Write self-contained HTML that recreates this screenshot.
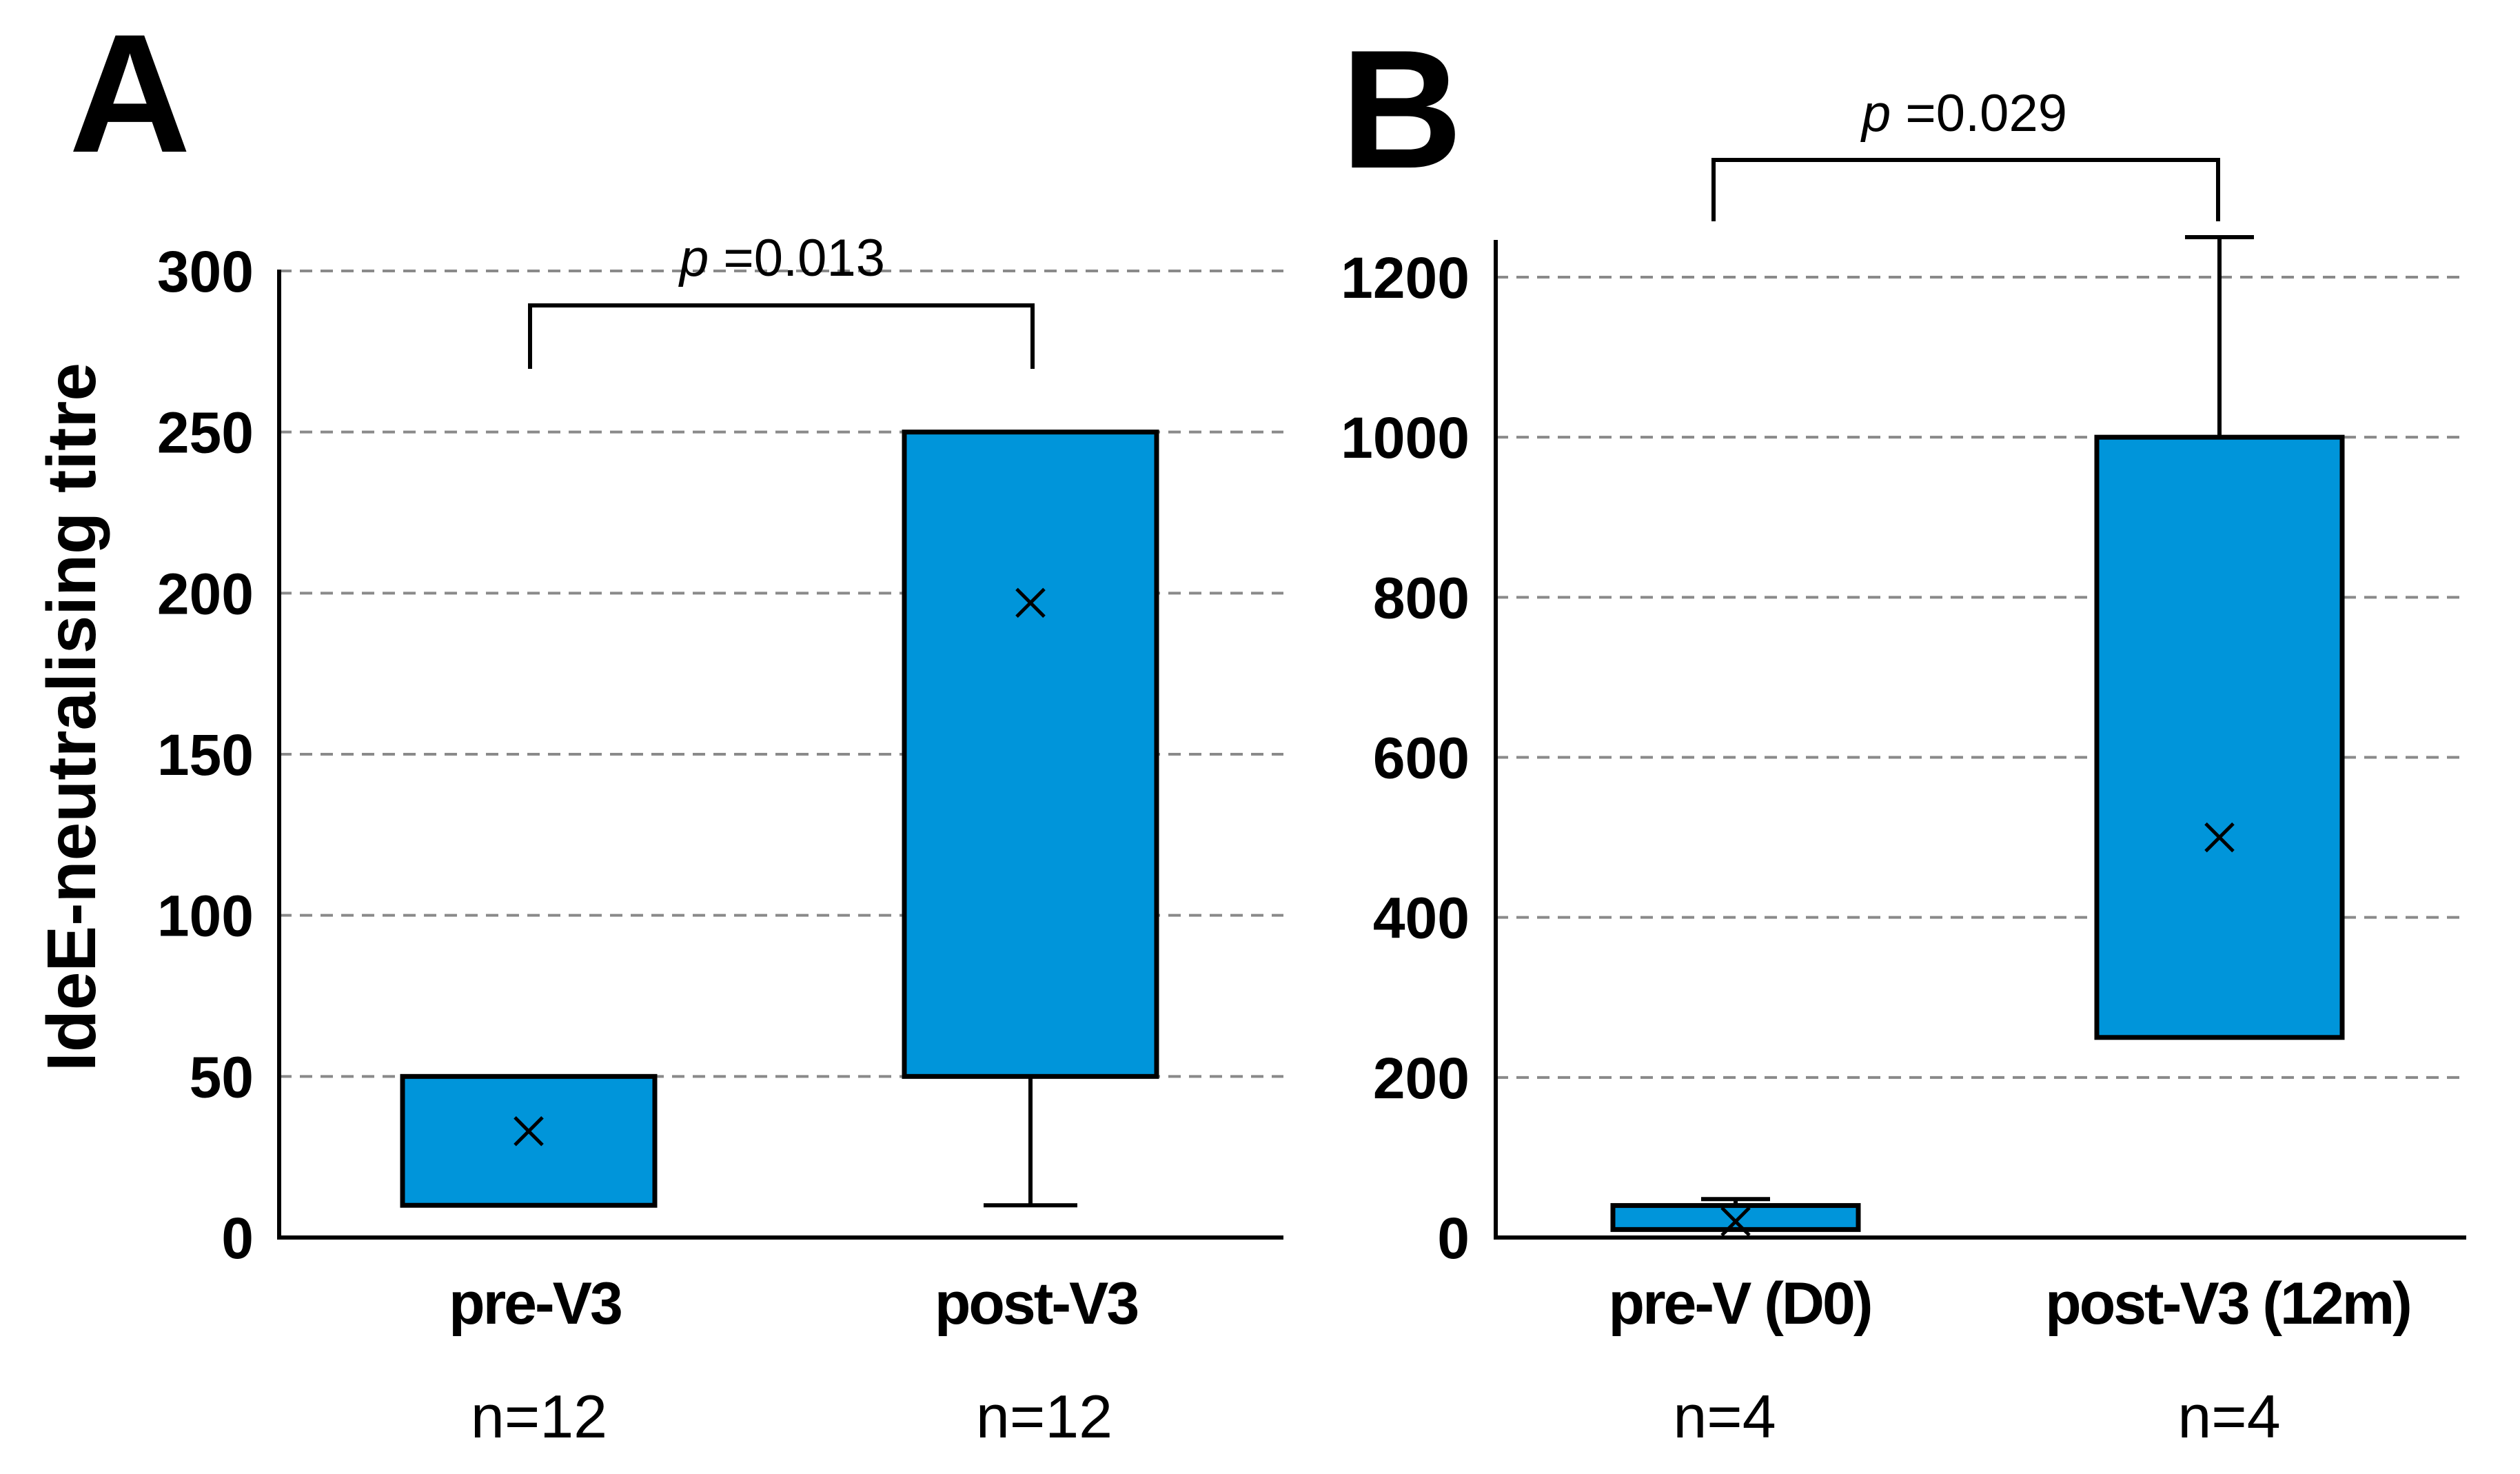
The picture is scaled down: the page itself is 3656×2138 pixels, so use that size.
<!DOCTYPE html>
<html><head><meta charset="utf-8"><style>
html,body{margin:0;padding:0;background:#fff;}
svg{display:block;font-family:"Liberation Sans",Arial,sans-serif;}
</style></head><body>
<svg id="fig" width="3656" height="2138" viewBox="0 0 3656 2138" xmlns="http://www.w3.org/2000/svg">
<text x="100" y="220" font-size="245" font-weight="bold">A</text>
<text x="1945" y="243" font-size="245" font-weight="bold">B</text>
<text transform="translate(138,1040) rotate(-90)" text-anchor="middle" font-size="100" font-weight="bold">IdeE-neutralising titre</text>
</svg>
<script>
const ticksA = [0,50,100,150,200,250,300];
const catsA = ["pre-V3","post-V3"];
const nA = ["n=12","n=12"];
const q1A = [10,50];
const q3A = [50,250];
const whiskLoA = [10,10];
const whiskHiA = [50,250];
const meanA = [33,197];

const ticksB = [0,200,400,600,800,1000,1200];
const catsB = ["pre-V (D0)","post-V3 (12m)"];
const nB = ["n=4","n=4"];
const q1B = [10,250];
const q3B = [40,1000];
const whiskLoB = [10,250];
const whiskHiB = [48,1250];
const meanB = [20,500];

const NS="http://www.w3.org/2000/svg";
const svg=document.getElementById('fig');
function mk(tag,attrs,parent){const e=document.createElementNS(NS,tag);for(const k in attrs)e.setAttribute(k,attrs[k]);(parent||svg).appendChild(e);return e;}

function panel(cfg){
  const g=mk('g',{});
  
  
  const y=v=>cfg.y0-(v-cfg.vmin)/(cfg.vmax-cfg.vmin)*(cfg.y0-cfg.y1);
  const x=i=>cfg.centers[i];
  cfg.ticks.forEach(t=>{
    if(t>0){const l=mk('line',{x1:cfg.ax,x2:cfg.right,y1:y(t),y2:y(t),stroke:'#8a8a8a','stroke-width':4,'stroke-dasharray':'18 12'},g);
    
    }
    const tx=mk('text',{x:cfg.tickRight,y:y(t)+30,'text-anchor':'end','font-size':84,'font-weight':'bold'},g);
    tx.textContent=t;
    
    
  });
  const ya=mk('line',{x1:cfg.ax,x2:cfg.ax,y1:cfg.axTop,y2:cfg.y0+3,stroke:'#000','stroke-width':6},g);
  
  
  const xa=mk('line',{x1:cfg.ax-3,x2:cfg.right,y1:cfg.y0,y2:cfg.y0,stroke:'#000','stroke-width':6},g);
  
  
  cfg.cats.forEach((c,i)=>{
    const cx=x(i);
    const w1=mk('line',{x1:cx,x2:cx,y1:y(cfg.hi[i]),y2:y(cfg.q3[i]),stroke:'#000','stroke-width':6},g);
    
    
    const w2=mk('line',{x1:cx,x2:cx,y1:y(cfg.q1[i]),y2:y(cfg.lo[i]),stroke:'#000','stroke-width':6},g);
    
    
    if(cfg.hi[i]>cfg.q3[i]){const c1=mk('line',{x1:cx-cfg.cap,x2:cx+cfg.cap,y1:y(cfg.hi[i]),y2:y(cfg.hi[i]),stroke:'#000','stroke-width':6},g);
      
      }
    if(cfg.lo[i]<cfg.q1[i]){const c2=mk('line',{x1:cx-cfg.cap,x2:cx+cfg.cap,y1:y(cfg.lo[i]),y2:y(cfg.lo[i]),stroke:'#000','stroke-width':6},g);
      
      }
    const b=mk('rect',{x:cx-cfg.bw/2,y:y(cfg.q3[i]),width:cfg.bw,height:y(cfg.q1[i])-y(cfg.q3[i]),fill:'#0095DA',stroke:'#000','stroke-width':7},g);
    
    
    const my=y(cfg.mean[i]);
    const m=mk('path',{d:`M${cx-20},${my-20}L${cx+20},${my+20}M${cx+20},${my-20}L${cx-20},${my+20}`,stroke:'#000','stroke-width':5,fill:'none'},g);
    
    
    const cl=mk('text',{x:cfg.labX[i],y:1920,'text-anchor':'middle','font-size':86,'font-weight':'bold','letter-spacing':'-3'},g);
    cl.textContent=c;
    
    
    const nl=mk('text',{x:cfg.nX[i],y:2085,'text-anchor':'middle','font-size':88},g);
    nl.textContent=cfg.n[i];
    
    
  });
  const br=mk('path',{d:`M${cfg.br[0]},${cfg.br[3]}V${cfg.br[2]}H${cfg.br[1]}V${cfg.br[3]}`,fill:'none',stroke:'#000','stroke-width':6},g);
  
  
  const pt=mk('text',{x:cfg.pX,y:cfg.pY,'text-anchor':'middle','font-size':76},g);
  pt.innerHTML='<tspan font-style="italic">p</tspan> =' + cfg.p;
  
  
}
panel({name:'panel-a',vmin:0,vmax:300,y0:1795,y1:393,ax:405,axTop:391,right:1862,tickRight:368,
  ticks:ticksA,cats:catsA,n:nA,q1:q1A,q3:q3A,lo:whiskLoA,hi:whiskHiA,mean:meanA,
  centers:[767,1495],bw:366,cap:68,labX:[776,1503],nX:[782,1515],br:[769,1498,443,535],pX:1135,pY:400,p:'0.013'});
panel({name:'panel-b',vmin:0,vmax:1200,y0:1795,y1:402,ax:2170,axTop:348,right:3578,tickRight:2132,
  ticks:ticksB,cats:catsB,n:nB,q1:q1B,q3:q3B,lo:whiskLoB,hi:whiskHiB,mean:meanB,
  centers:[2518,3220],bw:356,cap:50,labX:[2524,3232],nX:[2502,3234],br:[2486,3218,232,321],pX:2850,pY:190,p:'0.029'});
</script>
</body></html>
